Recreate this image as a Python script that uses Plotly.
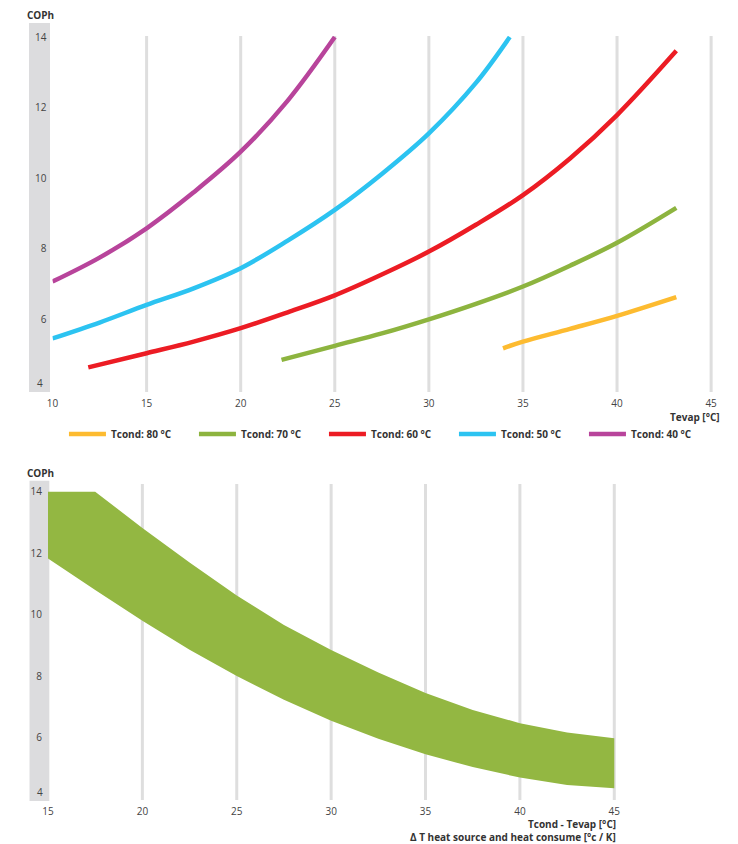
import plotly.graph_objects as go

# --- top chart: COPh vs Tevap for each condensing temperature
x_80 = [33.94, 35, 37.5, 40, 43.15]
y_80 = [5.18, 5.37, 5.73, 6.1, 6.63]

x_70 = [22.17, 25, 27.5, 30, 32.5, 35, 37.5, 40, 43.15]
y_70 = [4.85, 5.25, 5.6, 6.0, 6.44, 6.93, 7.52, 8.17, 9.16]

x_60 = [11.9, 15, 17.5, 20, 22.5, 25, 27.5, 30, 32.5, 35, 37.5, 40, 43.15]
y_60 = [4.64, 5.04, 5.37, 5.75, 6.2, 6.68, 7.27, 7.92, 8.68, 9.52, 10.56, 11.79, 13.61]

x_50 = [10, 12.5, 15, 17.5, 20, 22.5, 25, 27.5, 30, 32.5, 34.3]
y_50 = [5.46, 5.91, 6.41, 6.88, 7.45, 8.23, 9.1, 10.12, 11.27, 12.7, 14.0]

x_40 = [10, 12.5, 15, 17.5, 20, 22.5, 25]
y_40 = [7.07, 7.75, 8.58, 9.6, 10.75, 12.2, 14.0]

series_names = ["Tcond: 80 °C", "Tcond: 70 °C", "Tcond: 60 °C", "Tcond: 50 °C", "Tcond: 40 °C"]
series_colors = ["#FDBB30", "#8DB43F", "#EC1C24", "#2CC3F1", "#B8449B"]

# --- bottom chart: COPh band vs (Tcond - Tevap)
dt = [15, 17.5, 20, 22.5, 25, 27.5, 30, 32.5, 35, 37.5, 40, 42.5, 45]
cop_upper = [14, 14, 12.82, 11.7, 10.62, 9.66, 8.85, 8.12, 7.45, 6.9, 6.47, 6.17, 5.98]
cop_lower = [11.83, 10.8, 9.8, 8.86, 8.0, 7.23, 6.55, 5.96, 5.46, 5.04, 4.7, 4.46, 4.35]

top_ticks = [10, 15, 20, 25, 30, 35, 40, 45]
bottom_ticks = [15, 20, 25, 30, 35, 40, 45]
y_ticks = [4, 6, 8, 10, 12, 14]
y_labels = ["", "6", "8", "10", "12", "14"]  # "4" is set a bit higher, see below

FONT = "Open Sans"
TXT = "#444444"
GRID = "#dedede"
BAND = "#dcdcde"

fig = go.Figure()

series = [(x_80, y_80), (x_70, y_70), (x_60, y_60), (x_50, y_50), (x_40, y_40)]
for (xs, ys), name, col in zip(series, series_names, series_colors):
    fig.add_trace(go.Scatter(
        x=xs, y=ys, name=name, mode="lines",
        line=dict(color=col, width=4.5, shape="spline"),
        xaxis="x", yaxis="y",
    ))

fig.add_trace(go.Scatter(
    x=dt + dt[::-1], y=cop_upper + cop_lower[::-1],
    mode="lines", fill="toself", fillcolor="#93B742",
    line=dict(width=0, color="#93B742"),
    showlegend=False, xaxis="x2", yaxis="y2",
))

axis_font = dict(family=FONT, size=10, color=TXT)
common_x = dict(showgrid=False, zeroline=False, showline=False, ticks="",
                tickfont=axis_font, ticklabelstandoff=4, automargin=False)
common_y = dict(showgrid=False, zeroline=False, showline=False, ticks="",
                tickfont=axis_font, ticklabelstandoff=5, automargin=False,
                tickvals=y_ticks, ticktext=y_labels)

# vertical grid lines at the tick values (none at the left edge)
shapes = []
for t in top_ticks[1:]:
    shapes.append(dict(type="line", xref="x", yref="y domain", x0=t, x1=t, y0=0, y1=1,
                       line=dict(color=GRID, width=3), layer="below"))
for t in bottom_ticks[1:]:
    shapes.append(dict(type="line", xref="x2", yref="y2 domain", x0=t, x1=t, y0=0, y1=1,
                       line=dict(color=GRID, width=3), layer="below"))
# grey band behind the y labels
shapes.append(dict(type="rect", xref="paper", yref="paper", x0=-0.0286, x1=0.003,
                   y0=0.534, y1=1.017, fillcolor=BAND, line=dict(width=0), layer="below"))
shapes.append(dict(type="rect", xref="paper", yref="paper", x0=-0.0278, x1=0.002,
                   y0=-0.0013, y1=0.418, fillcolor=BAND, line=dict(width=0), layer="below"))

fig.update_layout(
    width=730, height=836,
    margin=dict(l=40, r=25, t=28, b=44),
    paper_bgcolor="white", plot_bgcolor="white",
    font=dict(family=FONT, color=TXT),
    xaxis=dict(domain=[0.0068, 1], range=[10, 45.1], tickvals=top_ticks,
               anchor="y", **common_x),
    yaxis=dict(domain=[0.534, 1.0], range=[3.94, 14.03], anchor="x", **common_y),
    xaxis2=dict(domain=[0, 1], range=[15, 50.23], tickvals=bottom_ticks,
                anchor="y2", **common_x),
    yaxis2=dict(domain=[0, 0.4136], range=[3.97, 14.25], anchor="x2", **common_y),
    legend=dict(orientation="h", x=0.024, y=0.498, xanchor="left", yanchor="top",
                font=dict(family=FONT, size=10, color="#333333", weight="bold"),
                itemwidth=37, entrywidth=78, entrywidthmode="pixels",
                bgcolor="rgba(0,0,0,0)"),
    shapes=shapes,
)

# the lowest y label sits a little above its tick
for yref in ["y", "y2"]:
    fig.add_annotation(text="4", x=-0.0045, y=4, xref="paper", yref=yref,
                       xanchor="right", yanchor="middle", yshift=7,
                       showarrow=False, font=axis_font)

bold = dict(family=FONT, size=10, color="#333333", weight="bold")
notes = [
    ("COPh", -0.012, 1.0275, "center"),
    ("Tevap [°C]", 1.0135, 0.501, "right"),
    ("COPh", -0.012, 0.428, "center"),
    ("Tcond - Tevap [°C]", 0.857, -0.0318, "right"),
    ("Δ T heat source and heat consume [°c / K]", 0.857, -0.049, "right"),
]
for text, x, y, anchor in notes:
    fig.add_annotation(text=text, x=x, y=y, xref="paper", yref="paper",
                       xanchor=anchor, yanchor="middle", showarrow=False, font=bold)

fig.write_html("out.html")
